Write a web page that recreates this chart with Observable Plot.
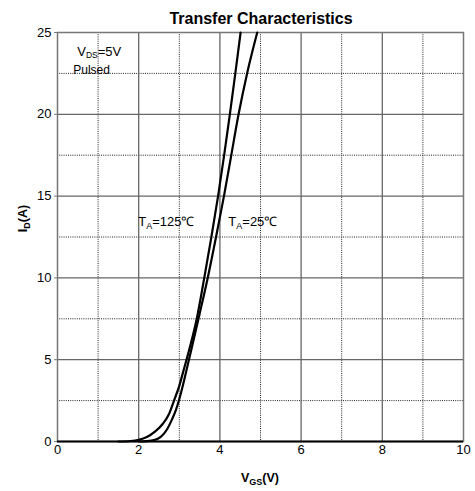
<!DOCTYPE html>
<html><head><meta charset="utf-8">
<script src="https://cdn.jsdelivr.net/npm/d3@7"></script>
<script src="https://cdn.jsdelivr.net/npm/@observablehq/plot@0.6"></script>
<style>body{margin:0;background:#fff}svg{display:block}</style>
</head><body><div id="chart"></div>
<script>
// Data
const vgs125 = [1.5, 1.8, 2.0, 2.2, 2.4, 2.6, 2.75, 2.87, 3.0, 3.1, 3.2, 3.43, 3.615, 3.79, 3.955, 4.105, 4.245, 4.38, 4.51];
const id125  = [0, 0.03, 0.1, 0.27, 0.6, 1.1, 1.7, 2.5, 3.4, 4.3, 5.2, 7.5, 10, 12.5, 15, 17.5, 20, 22.5, 25];
const vgs25  = [2.0, 2.2, 2.4, 2.55, 2.7, 2.82, 2.92, 3.0, 3.1, 3.2, 3.3, 3.5, 3.70, 3.905, 4.10, 4.28, 4.46, 4.67, 4.92];
const id25   = [0, 0.02, 0.1, 0.3, 0.75, 1.35, 1.95, 2.6, 3.55, 4.6, 5.65, 7.8, 10, 12.5, 15, 17.5, 20, 22.5, 25];
const xTicks = [0, 2, 4, 6, 8, 10];
const yTicks = [0, 5, 10, 15, 20, 25];
const xMinor = [1, 3, 5, 7, 9];
const yMinor = [2.5, 7.5, 12.5, 17.5, 22.5];
const titleText = "Transfer Characteristics";

const d125 = vgs125.map((v, i) => ({x: v, y: id125[i]}));
const d25 = vgs25.map((v, i) => ({x: v, y: id25[i]}));

const font = "'Liberation Sans', Arial, sans-serif";
const plot = Plot.plot({
  width: 475, height: 491,
  marginTop: 32, marginLeft: 57, marginRight: 12, marginBottom: 50,
  style: {fontFamily: font, fontSize: "13px", color: "#000", background: "#fff"},
  x: {domain: [0, 10]},
  y: {domain: [0, 25]},
  marks: [
    Plot.ruleX(xMinor, {stroke: "#222", strokeWidth: 1, strokeDasharray: "1,1.2"}),
    Plot.ruleY(yMinor, {stroke: "#222", strokeWidth: 1, strokeDasharray: "1,1.2"}),
    Plot.ruleX(xTicks.slice(1, -1), {stroke: "#666", strokeWidth: 1.3}),
    Plot.ruleY(yTicks.slice(1, -1), {stroke: "#666", strokeWidth: 1.3}),
    Plot.frame({stroke: "#777", strokeWidth: 1.5}),
    Plot.ruleY([0], {stroke: "#000", strokeWidth: 1.8}),
    Plot.line(d125, {x: "x", y: "y", stroke: "#000", strokeWidth: 2.2, curve: "monotone-x"}),
    Plot.line(d25, {x: "x", y: "y", stroke: "#000", strokeWidth: 2.2, curve: "monotone-x"}),
    Plot.axisX({ticks: xTicks, tickSize: 0, tickPadding: 3, label: null, fontSize: 13}),
    Plot.axisY({ticks: yTicks, tickSize: 3, tickPadding: 3, label: null, fontSize: 13, stroke: "#777"})
  ]
});
document.getElementById("chart").appendChild(plot);

const sx = plot.scale("x"), sy = plot.scale("y");
const svg = d3.select(plot);
function sub(g, parts, attrs) {
  const t = g.append("text").attr("font-family", font).attr("text-anchor", "start");
  for (const [k, v] of Object.entries(attrs)) t.attr(k, v);
  for (const p of parts) {
    const ts = t.append("tspan").text(p.t);
    if (p.sub) ts.attr("font-size", p.sub).attr("dy", p.dy);
    else if (p.dy) ts.attr("dy", p.dy);
  }
  return t;
}
// Title
svg.append("text").attr("x", (sx.apply(0) + sx.apply(10)) / 2 + 1).attr("y", 24)
  .attr("text-anchor", "middle").attr("font-family", font).attr("font-weight", "bold")
  .attr("font-size", 16).text(titleText);
// X label
sub(svg, [{t: "V"}, {t: "GS", sub: 9, dy: 3}, {t: "(V)", dy: -3}],
  {x: (sx.apply(0) + sx.apply(10)) / 2, y: 482, "text-anchor": "middle", "font-weight": "bold", "font-size": 12.5});
// Y label
sub(svg, [{t: "I"}, {t: "D", sub: 9, dy: 3}, {t: "(A)", dy: -3}],
  {transform: `translate(27,${sy.apply(13.6)}) rotate(-90)`, "text-anchor": "middle", "font-weight": "bold", "font-size": 12.5});
// Annotations
sub(svg, [{t: "V"}, {t: "DS", sub: 8.5, dy: 2.5}, {t: "=5V", dy: -2.5}],
  {x: sx.apply(0.5), y: sy.apply(23.55), "font-size": 13});
sub(svg, [{t: "Pulsed"}], {x: sx.apply(0.4), y: sy.apply(22.45), "font-size": 12});
sub(svg, [{t: "T"}, {t: "A", sub: 9, dy: 3}, {t: "=125℃", dy: -3}],
  {x: sx.apply(2.0), y: sy.apply(13.14), "font-size": 13});
sub(svg, [{t: "T"}, {t: "A", sub: 9, dy: 3}, {t: "=25℃", dy: -3}],
  {x: sx.apply(4.22), y: sy.apply(13.14), "font-size": 13});
</script></body></html>
